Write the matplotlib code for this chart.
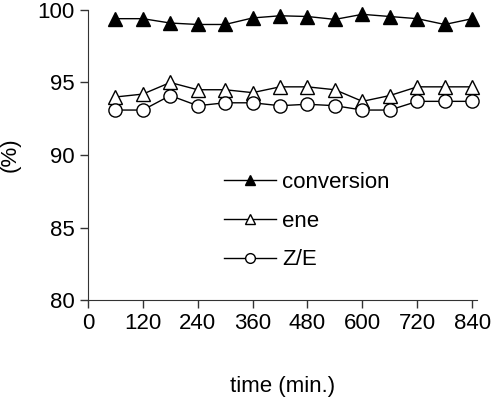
import matplotlib
matplotlib.use("Agg")
import matplotlib.pyplot as plt
from matplotlib.lines import Line2D

time_min = [60, 120, 180, 240, 300, 360, 420, 480, 540, 600, 660, 720, 780, 840]
conversion = [99.4, 99.4, 99.1, 99.0, 99.0, 99.45, 99.6, 99.55, 99.35, 99.7, 99.55, 99.4, 99.0, 99.4]
ene = [94.0, 94.2, 95.0, 94.5, 94.5, 94.3, 94.7, 94.7, 94.5, 93.7, 94.1, 94.7, 94.7, 94.7]
ze = [93.1, 93.1, 94.1, 93.4, 93.6, 93.6, 93.4, 93.5, 93.4, 93.1, 93.1, 93.7, 93.7, 93.7]
xticks = [0, 120, 240, 360, 480, 600, 720, 840]
yticks = [80, 85, 90, 95, 100]

plt.rcParams["font.family"] = ["Liberation Sans", "DejaVu Sans"]

fig = plt.figure(figsize=(4.91, 3.99), dpi=100)
ax = fig.add_axes([0.179, 0.248, 0.792, 0.727])

ax.plot(time_min, conversion, color="black", lw=1, marker="^", ms=10,
        mfc="black", mec="black", clip_on=False)
ax.plot(time_min, ene, color="black", lw=1, marker="^", ms=10,
        mfc="white", mec="black", clip_on=False)
ax.plot(time_min, ze, color="black", lw=1, marker="o", ms=9.5,
        mfc="white", mec="black", clip_on=False)

ax.set_xlim(0, 850)
ax.set_ylim(80, 100)
ax.set_xticks(xticks)
ax.set_yticks(yticks)
ax.tick_params(direction="out", length=6, width=1, labelsize=16, colors="#333333",
               labelcolor="black")
for s in ["top", "right"]:
    ax.spines[s].set_visible(False)
for s in ["left", "bottom"]:
    ax.spines[s].set_color("#333333")

ax.set_xlabel("time (min.)", fontsize=16, labelpad=30)
ax.set_ylabel("(%)", fontsize=16, labelpad=12)

handles = [
    Line2D([], [], color="black", lw=1, marker="^", ms=7, mfc="black", mec="black"),
    Line2D([], [], color="black", lw=1, marker="^", ms=7, mfc="white", mec="black"),
    Line2D([], [], color="black", lw=1, marker="o", ms=7, mfc="white", mec="black"),
]
ax.legend(handles, ["conversion", "ene", "Z/E"], loc="center left",
          bbox_to_anchor=(0.298, 0.272), frameon=False, fontsize=16,
          handlelength=2.35, handletextpad=0.27, labelspacing=0.8)

fig.savefig("out.png", dpi=100)
